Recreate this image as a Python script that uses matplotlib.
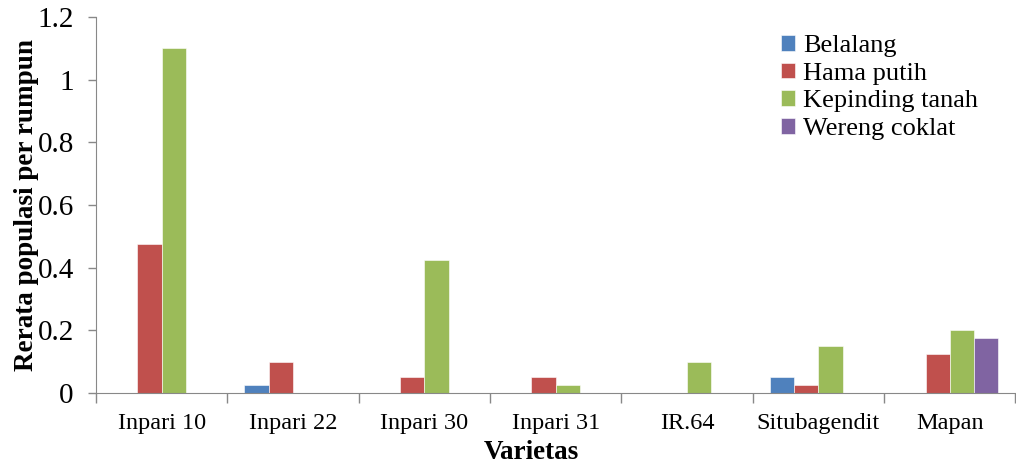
import numpy as np
import matplotlib.pyplot as plt

varietas = ['Inpari 10', 'Inpari 22', 'Inpari 30', 'Inpari 31', 'IR.64', 'Situbagendit', 'Mapan']
belalang = [0, 0.025, 0, 0, 0, 0.05, 0]
hama_putih = [0.475, 0.1, 0.05, 0.05, 0, 0.025, 0.125]
kepinding_tanah = [1.1, 0, 0.425, 0.025, 0.1, 0.15, 0.2]
wereng_coklat = [0, 0, 0, 0, 0, 0, 0.175]

series = [('Belalang', belalang, '#4F81BD'),
          ('Hama putih', hama_putih, '#C0504D'),
          ('Kepinding tanah', kepinding_tanah, '#9BBB59'),
          ('Wereng coklat', wereng_coklat, '#8064A2')]

plt.rcParams['font.family'] = ['Liberation Serif', 'DejaVu Serif']

fig = plt.figure(figsize=(10.16, 4.68), dpi=100)
ax = fig.add_axes([0.0945, 0.160, 0.905, 0.804])

x = np.arange(len(varietas))
w = 0.185
for i, (name, vals, col) in enumerate(series):
    ax.bar(x + (i - 1.5) * w, vals, w, color=col, label=name,
           edgecolor='white', linewidth=0.4)

ax.set_xlim(-0.5, len(varietas) - 0.5)
ax.set_ylim(0, 1.2)
ax.set_yticks(np.arange(0, 1.21, 0.2))
ax.set_yticklabels(['0', '0.2', '0.4', '0.6', '0.8', '1', '1.2'], fontsize=21)

ax.set_xticks(x)
ax.set_xticklabels(varietas, fontsize=17.5)
ax.tick_params(axis='x', length=0, pad=14)
ax.set_xticks(np.arange(-0.5, len(varietas)), minor=True)
ax.tick_params(axis='x', which='minor', length=7, color='#888888', width=1)
ax.tick_params(axis='y', length=6, color='#888888', width=1, pad=10)

for s in ['top', 'right']:
    ax.spines[s].set_visible(False)
for s in ['left', 'bottom']:
    ax.spines[s].set_color('#888888')

ax.set_ylabel('Rerata populasi per rumpun', fontsize=19.5, fontweight='bold', labelpad=-1)
ax.set_xlabel('Varietas', fontsize=19.5, fontweight='bold')
ax.xaxis.set_label_coords(0.473, -0.125)

ax.legend(loc='upper right', bbox_to_anchor=(0.985, 1.015), frameon=False, fontsize=19,
          handlelength=0.55, handleheight=0.55, handletextpad=0.3, labelspacing=0.2)

fig.savefig('out.png', dpi=100)
